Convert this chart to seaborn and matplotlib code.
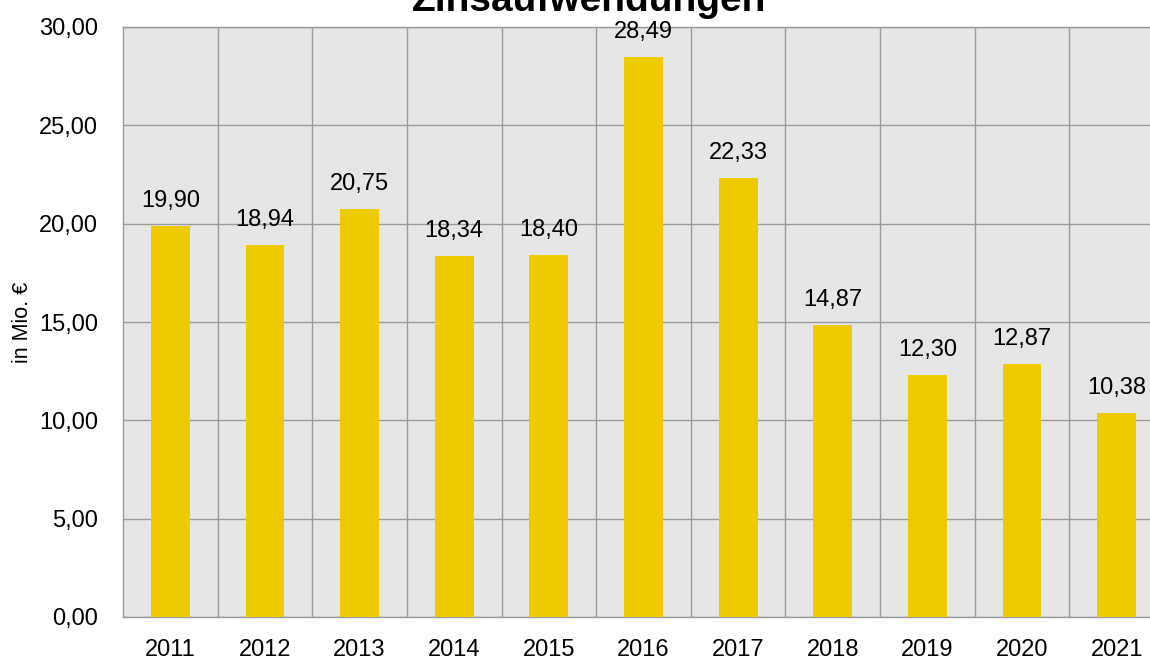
import numpy as np
import pandas as pd
import seaborn as sns
import matplotlib.pyplot as plt
from matplotlib.ticker import FixedLocator, FuncFormatter

# data
years = ['2011', '2012', '2013', '2014', '2015', '2016', '2017', '2018', '2019', '2020', '2021']
zinsaufwand = [19.90, 18.94, 20.75, 18.34, 18.40, 28.49, 22.33, 14.87, 12.30, 12.87, 10.38]
y_ticks = [0, 5, 10, 15, 20, 25, 30]

df = pd.DataFrame({'Jahr': years, 'Wert': zinsaufwand})

sns.set_style('white')
plt.rcParams['font.family'] = ['Liberation Sans Narrow', 'Liberation Sans', 'DejaVu Sans']
plt.rcParams['text.color'] = 'black'
plt.rcParams['axes.labelcolor'] = 'black'
plt.rcParams['xtick.color'] = 'black'
plt.rcParams['ytick.color'] = 'black'

grid_col = '#9a9a9a'
bar_col = '#eecb00'

fig = plt.figure(figsize=(11.5, 6.61), dpi=100)
ax = fig.add_axes([123 / 1150, 44 / 661, 1041 / 1150, 590 / 661])
ax.set_facecolor('#e6e6e6')

sns.barplot(data=df, x='Jahr', y='Wert', order=years, color=bar_col,
            width=0.41, saturation=1, edgecolor='none', linewidth=0, ax=ax, zorder=3)

ax.set_xlim(-0.5, len(years) - 0.5)
ax.set_ylim(0, 30)
ax.set_yticks(y_ticks)
ax.yaxis.set_major_formatter(FuncFormatter(lambda v, p: f'{v:.2f}'.replace('.', ',')))

# vertical separators between categories
ax.xaxis.set_minor_locator(FixedLocator(np.arange(0.5, len(years) - 0.5, 1)))
ax.grid(axis='y', which='major', color=grid_col, linewidth=1.0, zorder=0)
ax.grid(axis='x', which='minor', color=grid_col, linewidth=1.0, zorder=0)
ax.set_axisbelow(True)

for s in ['left', 'top', 'bottom', 'right']:
    ax.spines[s].set_color(grid_col)
    ax.spines[s].set_linewidth(1.0)

ax.tick_params(axis='both', which='both', length=0, labelsize=17)
ax.tick_params(axis='y', pad=18)
ax.tick_params(axis='x', pad=16)

ax.set_xlabel('')
ax.set_ylabel('in Mio. €', fontsize=15.5, labelpad=4)

for i, v in enumerate(zinsaufwand):
    ax.annotate(f'{v:.2f}'.replace('.', ','), (i, v), xytext=(0, 10),
                textcoords='offset points', ha='center', va='bottom', fontsize=17)

fig.text(589 / 1150, 1 - 11 / 661, 'Zinsaufwendungen', ha='center', va='baseline',
         fontsize=28, fontweight='bold', family=['Liberation Sans', 'DejaVu Sans'])

fig.savefig('out.png', dpi=100)
